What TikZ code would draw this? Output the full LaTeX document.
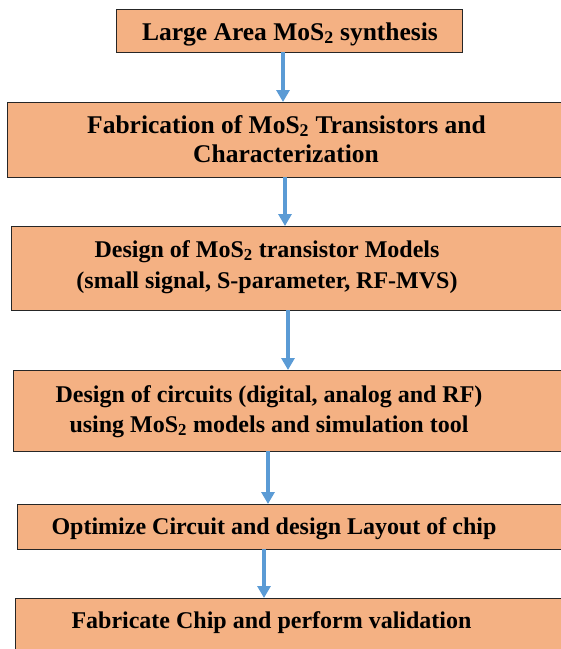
\documentclass[tikz,border=0pt]{standalone}
\usepackage{fontspec}
\setmainfont{Liberation Serif}[BoldFont={Liberation Serif Bold}]
\usetikzlibrary{arrows.meta}
\definecolor{boxfill}{HTML}{F4B183}
\definecolor{arrowblue}{HTML}{5B9BD5}
\tikzset{
  box/.style={draw=black!85, line width=0.8pt, fill=boxfill, rectangle, inner sep=0pt, outer sep=0pt},
  txt/.style={anchor=base, inner sep=0pt, font=\fontsize{24}{30}\selectfont\bfseries},
  bigtxt/.style={txt, font=\fontsize{25.5}{30}\selectfont\bfseries},
  flow/.style={draw=arrowblue, line width=3.5pt, -{Triangle[width=13pt,length=12pt]}, shorten >=0pt}
}
\newcommand{\mos}{MoS\textsubscript{2}}
\begin{document}
\begin{tikzpicture}[x=1pt,y=-1pt]
\useasboundingbox (0,0) rectangle (561,649);
\clip (0,0) rectangle (561,649);
% boxes
\node[box, minimum width=346pt, minimum height=43pt] (b1) at (289,30.5) {};
\node[box, minimum width=560pt, minimum height=75pt] (b2) at (287,139.5) {};
\node[box, minimum width=560pt, minimum height=84pt] (b3) at (291,268) {};
\node[box, minimum width=560pt, minimum height=81pt] (b4) at (293,410.5) {};
\node[box, minimum width=560pt, minimum height=45pt] (b5) at (297,526.5) {};
\node[box, minimum width=560pt, minimum height=70pt] (b6) at (295,633) {};
% texts
\node[bigtxt] (t1) at (290,40) {Large Area \mos{} synthesis};
\node[bigtxt] (t2a) at (286.5,133) {Fabrication of \mos{} Transistors and};
\node[bigtxt] (t2b) at (286,162.5) {Characterization};
\node[txt] (t3a) at (267,257) {Design of \mos{} transistor Models};
\node[txt] (t3b) at (267,288) {(small signal, S-parameter, RF-MVS)};
\node[txt] (t4a) at (269,402) {Design of circuits (digital, analog and RF)};
\node[txt] (t4b) at (269,432) {using \mos{} models and simulation tool};
\node[txt] (t5) at (274,534.5) {Optimize Circuit and design Layout of chip};
\node[txt] (t6) at (271.5,628) {Fabricate Chip and perform validation};
% arrows
\draw[flow] ([xshift=-6pt]b1.south) -- ([xshift=-4pt]b2.north);
\draw[flow] ([xshift=-2pt]b2.south) -- ([xshift=-6pt]b3.north);
\draw[flow] ([xshift=-3pt]b3.south) -- ([xshift=-5pt]b4.north);
\draw[flow] ([xshift=-25pt]b4.south) -- ([xshift=-29pt]b5.north);
\draw[flow] ([xshift=-33pt]b5.south) -- ([xshift=-31pt]b6.north);
\end{tikzpicture}
\end{document}
